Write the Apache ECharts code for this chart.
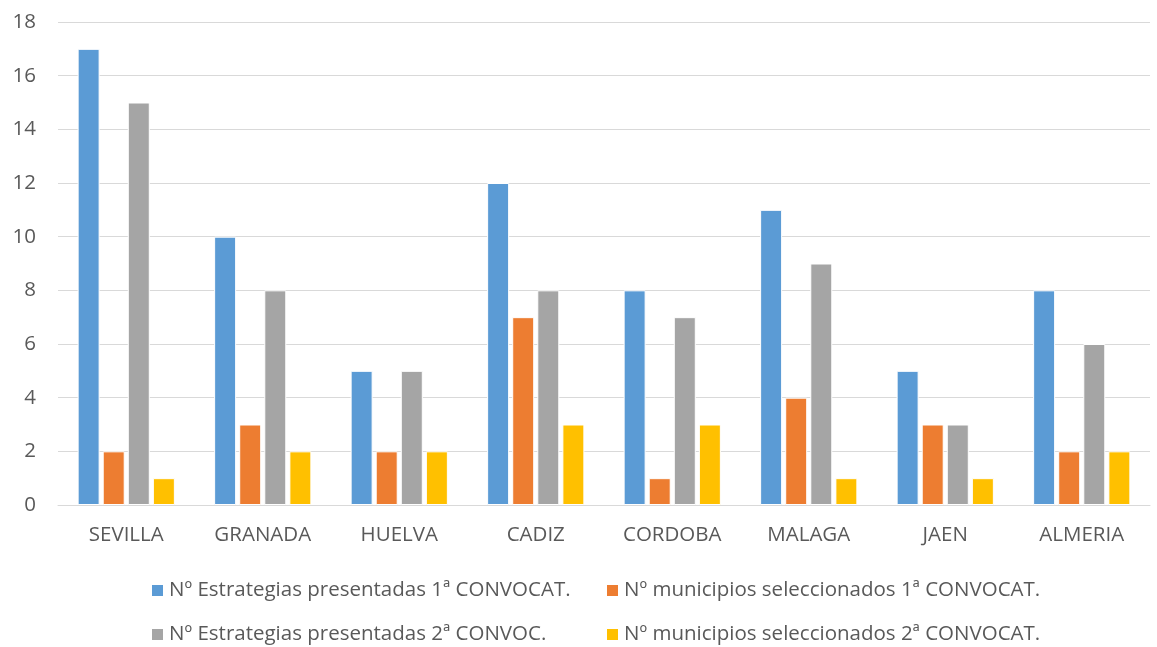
<!DOCTYPE html>
<html>
<head>
<meta charset="utf-8">
<script src="https://cdn.jsdelivr.net/npm/echarts@6/dist/echarts.min.js"></script>
<style>html,body{margin:0;padding:0;background:#fff}#c{width:1157px;height:647px}</style>
</head>
<body>
<div id="c"></div>
<script>
const categories = ['SEVILLA','GRANADA','HUELVA','CADIZ','CORDOBA','MALAGA','JAEN','ALMERIA'];
const seriesNames = ['Nº Estrategias presentadas 1ª CONVOCAT.','Nº municipios seleccionados 1ª CONVOCAT.','Nº Estrategias presentadas 2ª CONVOC.','Nº municipios seleccionados 2ª CONVOCAT.'];
const estrategias1 = [17,10,5,12,8,11,5,8];
const municipios1 = [2,3,2,7,1,4,3,2];
const estrategias2 = [15,8,5,8,7,9,3,6];
const municipios2 = [1,2,2,3,3,1,1,2];
const yTicks = [0,2,4,6,8,10,12,14,16,18];
const colors = ['#5B9BD5','#ED7D31','#A5A5A5','#FFC000'];
const font = 'Open Sans, Noto Sans, sans-serif';
const values = [estrategias1, municipios1, estrategias2, municipios2];
const chart = echarts.init(document.getElementById('c'));
const legendText = {fontSize:20.5, color:'#595959', fontFamily:font};
const legendPos = [[145,575],[600,575],[145,619],[600,619]];
chart.setOption({
  animation:false,
  color: colors,
  grid:{left:58, right:7, top:22, bottom:142, containLabel:false},
  legend: seriesNames.map((n,i)=>({
    left:legendPos[i][0], top:legendPos[i][1], itemWidth:13, itemHeight:13, itemGap:5, icon:'rect',
    data:[n], textStyle:legendText
  })),
  xAxis:{type:'category', data:categories, axisTick:{show:false},
    axisLine:{lineStyle:{color:'#d9d9d9', width:1}},
    axisLabel:{fontSize:20.5, color:'#595959', fontFamily:font, margin:20}},
  yAxis:{type:'value', min:yTicks[0], max:yTicks[yTicks.length-1], interval:2,
    axisLine:{show:false}, axisTick:{show:false},
    splitLine:{lineStyle:{color:'#d9d9d9', width:1}},
    axisLabel:{fontSize:20.5, color:'#595959', fontFamily:font, margin:22}},
  series: values.map((v,i)=>({
    name: seriesNames[i], type:'bar', data:v, barWidth:22, barGap:'14%',
    itemStyle:{color:colors[i], borderColor:'#fff', borderWidth:1}
  }))
});
</script>
</body>
</html>
